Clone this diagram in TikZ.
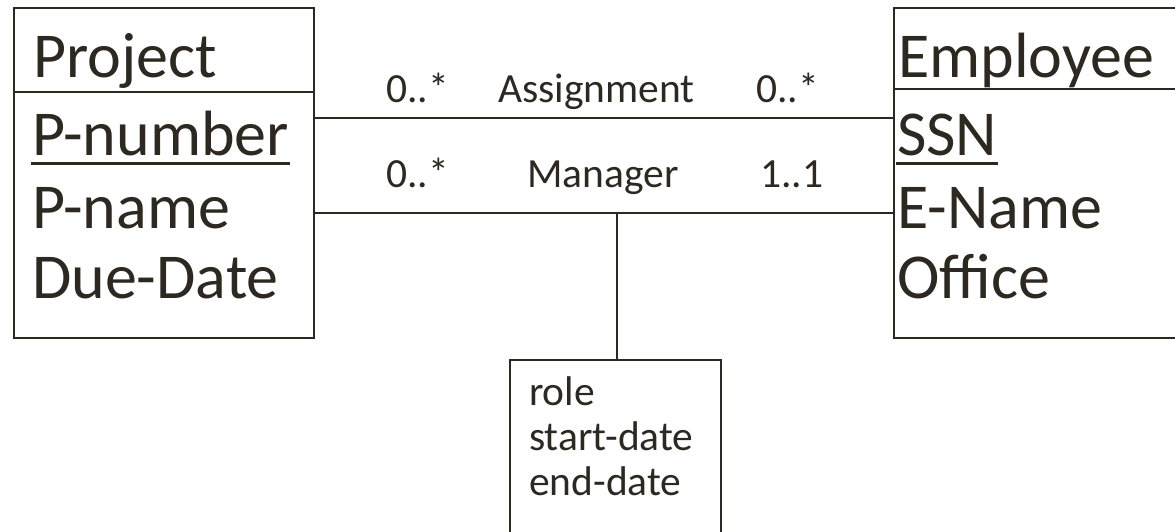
\documentclass[tikz,border=0pt]{standalone}
\usepackage{fontspec}
\setmainfont{Carlito}
\definecolor{ink}{RGB}{45,41,33}
\begin{document}
\begin{tikzpicture}[x=1pt,y=-1pt,
  line width=2.3pt, draw=ink, text=ink,
  box/.style={draw=ink, line width=2.3pt, rectangle, inner sep=0pt, anchor=north west},
  big/.style={anchor=base west, inner sep=0pt, font=\fontsize{64}{70}\selectfont},
  small/.style={anchor=base west, inner sep=0pt, font=\fontsize{41.5}{46}\selectfont},
  keyline/.style={line width=3pt}]
\useasboundingbox (0,0) rectangle (1175,532);

% class boxes
\node[box, minimum width=300pt, minimum height=330pt] (proj) at (13,7) {};
\node[box, minimum width=300pt, minimum height=330pt] (emp) at (893,7) {};
\node[box, minimum width=211pt, minimum height=200pt] (attr) at (509,359) {};

% header separators
\draw (proj.west |- 0,92) -- (proj.east |- 0,92);
\draw (emp.west |- 0,89) -- (emp.east |- 0,89);

% Project class
\node[big] (ptitle) at (32,78) {Project};
\node[big] (pnum) at (31,155) {P-number};
\node[big] (pname) at (31,228) {P-name};
\node[big] (pdue) at (31,298) {Due-Date};
\draw[keyline] ([yshift=-8pt]pnum.base west) -- ([yshift=-8pt]pnum.base east);

% Employee class
\node[big] (etitle) at (897,78) {Employee};
\node[big] (ssn) at (896,155) {SSN};
\node[big] (ename) at (896,228) {E-Name};
\node[big] (office) at (896,298) {Office};
\draw[keyline] ([yshift=-8pt]ssn.base west) -- ([yshift=-8pt]ssn.base east);

% associations
\draw (proj.east |- 0,118) -- (emp.west |- 0,118);
\draw (proj.east |- 0,213) -- (emp.west |- 0,213);
\coordinate (mgrmid) at (617,213);
\draw (mgrmid) -- (mgrmid |- attr.north);

% association labels
\node[small] (am1) at (385,103) {0..*};
\node[small] (aname) at (497,103) {Assignment};
\node[small] (am2) at (755,103) {0..*};
\node[small] (mm1) at (385,187) {0..*};
\node[small] (mname) at (526,187) {Manager};
\node[small] (mm2) at (759,187) {1..1};

% association class attributes
\node[small] (role) at (528,405) {role};
\node[small] (sdate) at (528,450) {start-date};
\node[small] (edate) at (528,495) {end-date};
\end{tikzpicture}
\end{document}
